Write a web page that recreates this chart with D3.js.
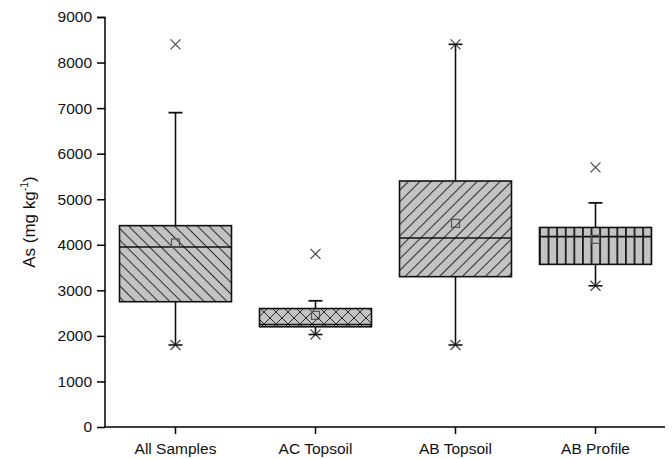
<!DOCTYPE html>
<html>
<head>
<meta charset="utf-8">
<script src="https://cdn.jsdelivr.net/npm/d3@7"></script>
<style>
  html, body { margin: 0; padding: 0; background: #fff; }
  svg { display: block; font-family: "Liberation Sans", Arial, sans-serif; }
</style>
</head>
<body>
<svg id="chart" width="672" height="459"></svg>
<script>
// ---- data ----
const categories = ["All Samples", "AC Topsoil", "AB Topsoil", "AB Profile"];
const q1Values = [2750, 2200, 3300, 3570];
const medianValues = [3950, 2250, 4150, 4180];
const q3Values = [4420, 2600, 5400, 4380];
const meanValues = [4040, 2450, 4470, 4120];
const whiskerLow = [1800, 2030, 1800, 3100];
const whiskerHigh = [6900, 2770, 8400, 4920];
const highMarker = ["cap", "cap", "star", "cap"];
const outlierValues = [[8400], [3800], [], [5700]];
const patterns = ["back", "cross", "fwd", "vert"];
const yTicks = [0, 1000, 2000, 3000, 4000, 5000, 6000, 7000, 8000, 9000];

const svg = d3.select("#chart");
const y = d3.scaleLinear().domain([0, 9000]).range([427, 17]);
const x = d3.scaleLinear().domain([0.5, 4.5]).range([105, 665]);
const boxW = 112;

// patterns
const defs = svg.append("defs");
function linePattern(id, spacing, angle, sw) {
  const p = defs.append("pattern").attr("id", id)
    .attr("patternUnits", "userSpaceOnUse")
    .attr("width", spacing).attr("height", spacing)
    .attr("patternTransform", `rotate(${angle})`);
  p.append("rect").attr("width", spacing).attr("height", spacing).attr("fill", "#c3c3c3");
  p.append("line").attr("x1", spacing / 2).attr("x2", spacing / 2)
    .attr("y1", -1).attr("y2", spacing + 1)
    .attr("stroke", "#2a2a2a").attr("stroke-width", sw);
}
linePattern("back", 8.1, -45, 1);
linePattern("fwd", 8.1, 45, 1);
(function () {
  const s = 12;
  const p = defs.append("pattern").attr("id", "cross")
    .attr("patternUnits", "userSpaceOnUse").attr("width", s).attr("height", s);
  p.append("rect").attr("width", s).attr("height", s).attr("fill", "#c3c3c3");
  p.append("path").attr("d", `M0,0L${s},${s}M${s},0L0,${s}`)
    .attr("stroke", "#2a2a2a").attr("stroke-width", 1);
})();
(function () {
  const s = 8.6;
  const p = defs.append("pattern").attr("id", "vert")
    .attr("patternUnits", "userSpaceOnUse").attr("width", s).attr("height", 10)
    .attr("x", x(4) - boxW / 2);
  p.append("rect").attr("width", s).attr("height", 10).attr("fill", "#c3c3c3");
  p.append("line").attr("x1", 0.9).attr("x2", 0.9).attr("y1", 0).attr("y2", 10)
    .attr("stroke", "#1a1a1a").attr("stroke-width", 1.8);
})();

// axes
const yAxis = d3.axisLeft(y).tickValues(yTicks).tickSize(8).tickPadding(5).tickFormat(d3.format("d"));
const gy = svg.append("g").attr("transform", "translate(105,0)").call(yAxis);
const xAxis = d3.axisBottom(x).tickValues([1, 2, 3, 4]).tickSize(7).tickPadding(9)
  .tickFormat(d => categories[d - 1]);
const gx = svg.append("g").attr("transform", "translate(0,427)").call(xAxis);
[gy, gx].forEach(g => {
  g.select(".domain").attr("stroke", "#000").attr("stroke-width", 1.5);
  g.selectAll(".tick line").attr("stroke", "#000").attr("stroke-width", 1.5);
  g.selectAll(".tick text").attr("fill", "#111").style("font-size", "15.5px")
    .style("font-family", "'Liberation Sans', Arial, sans-serif");
});
gy.select(".domain").attr("d", "M-8,17.5H0V427");
gx.select(".domain").attr("d", "M105,0H665");

// y label
svg.append("text")
  .attr("transform", `translate(35,${(y(0) + y(9000)) / 2}) rotate(-90)`)
  .attr("text-anchor", "middle")
  .style("font-size", "17px").attr("fill", "#111")
  .call(t => {
    t.append("tspan").text("As (mg kg");
    t.append("tspan").text("-1").attr("dy", -7).style("font-size", "10.5px");
    t.append("tspan").text(")").attr("dy", 7);
  });

// boxes
const g = svg.append("g");
categories.forEach((c, i) => {
  const cx = Math.round(x(i + 1)) + 0.5;
  // whiskers
  g.append("line").attr("x1", cx).attr("x2", cx)
    .attr("y1", y(q3Values[i])).attr("y2", y(whiskerHigh[i]))
    .attr("stroke", "#111").attr("stroke-width", 1.6);
  g.append("line").attr("x1", cx).attr("x2", cx)
    .attr("y1", y(q1Values[i])).attr("y2", y(whiskerLow[i]))
    .attr("stroke", "#111").attr("stroke-width", 1.6);
  // box
  g.append("rect")
    .attr("x", cx - boxW / 2).attr("width", boxW)
    .attr("y", y(q3Values[i])).attr("height", y(q1Values[i]) - y(q3Values[i]))
    .attr("fill", `url(#${patterns[i]})`)
    .attr("stroke", "#111").attr("stroke-width", 1.6);
  // median
  g.append("line").attr("x1", cx - boxW / 2).attr("x2", cx + boxW / 2)
    .attr("y1", y(medianValues[i])).attr("y2", y(medianValues[i]))
    .attr("stroke", "#111").attr("stroke-width", 1.6);
  // mean
  g.append("rect").attr("x", cx - 4).attr("y", y(meanValues[i]) - 4)
    .attr("width", 8).attr("height", 8)
    .attr("fill", "none").attr("stroke", "#555").attr("stroke-width", 1.2);
  // markers
  const star = (v, bar) => {
    const yy = y(v);
    const s = 5;
    g.append("path").attr("d", `M${cx - s},${yy - s}L${cx + s},${yy + s}M${cx + s},${yy - s}L${cx - s},${yy + s}`)
      .attr("stroke", "#444").attr("stroke-width", 1.2);
    if (bar) g.append("line").attr("x1", cx - 7).attr("x2", cx + 7).attr("y1", yy).attr("y2", yy)
      .attr("stroke", "#111").attr("stroke-width", 1.6);
  };
  star(whiskerLow[i], true);
  if (highMarker[i] === "star") star(whiskerHigh[i], true);
  else g.append("line").attr("x1", cx - 7).attr("x2", cx + 7)
    .attr("y1", y(whiskerHigh[i])).attr("y2", y(whiskerHigh[i]))
    .attr("stroke", "#111").attr("stroke-width", 1.8);
  outlierValues[i].forEach(v => star(v, false));
});
</script>
</body>
</html>
